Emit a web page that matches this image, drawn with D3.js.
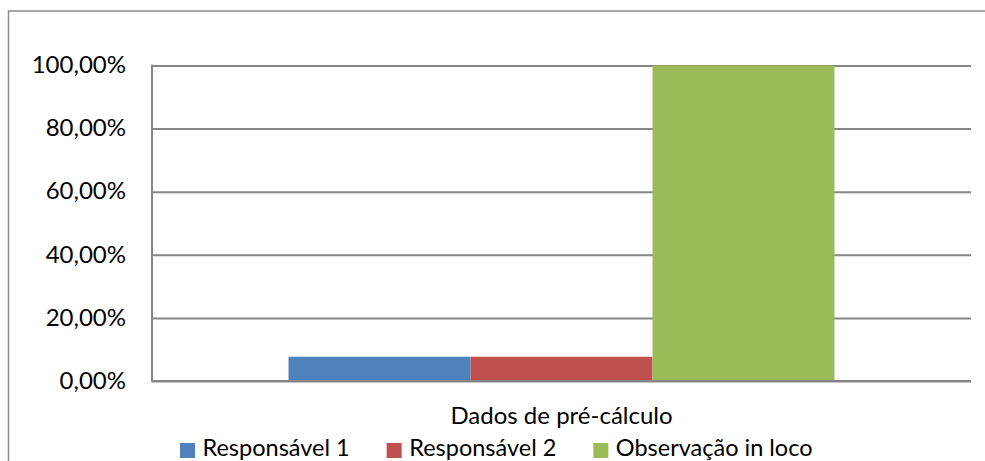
<!DOCTYPE html>
<html><head><meta charset="utf-8">
<script src="https://cdn.jsdelivr.net/npm/d3@7"></script>
<style>body{margin:0;background:#fff}svg{display:block}text{font-family:Lato,"Open Sans",sans-serif;fill:#000}</style>
</head><body><svg id="c" width="985" height="461"></svg>
<script>
const categories = ["Dados de pré-cálculo"];
const seriesNames = ["Responsável 1", "Responsável 2", "Observação in loco"];
const seriesValues = [0.0769, 0.0769, 1.0];
const seriesColors = ["#4F81BD", "#C0504D", "#9BBB59"];
const yTicks = [0, 0.2, 0.4, 0.6, 0.8, 1.0];
const yTickLabels = ["0,00%", "20,00%", "40,00%", "60,00%", "80,00%", "100,00%"];

const svg = d3.select("#c");
const W = 985, H = 461;
const m = {left: 152, right: 971, top: 65.5, bottom: 381};
const fs = 24;

// outer border
svg.append("rect").attr("x", 8.5).attr("y", 11).attr("width", W + 20).attr("height", H + 20)
  .attr("fill", "none").attr("stroke", "#8c8c8c").attr("stroke-width", 1.5);

const y = d3.scaleLinear().domain([0, 1]).range([m.bottom, m.top]);
const x0 = d3.scaleBand().domain(categories).range([m.left, m.right]).paddingInner(0).paddingOuter(0.25);
const x1 = d3.scaleBand().domain(seriesNames).range([0, x0.bandwidth()]).padding(0);

// gridlines
const yAxis = d3.axisLeft(y).tickValues(yTicks).tickSize(-(m.right - m.left)).tickFormat((d, i) => yTickLabels[i]).tickPadding(26);
const ga = svg.append("g").attr("transform", `translate(${m.left},0)`).call(yAxis);
ga.select(".domain").remove();
ga.selectAll(".tick line").attr("stroke", "#868686").attr("stroke-width", 2);
ga.selectAll(".tick text").attr("font-size", fs).attr("font-family", "Lato").attr("dy", "0.3em").attr("fill", "#000");

// bars
const cat = categories[0];
svg.append("g").selectAll("rect").data(seriesNames).join("rect")
  .attr("x", (d) => x0(cat) + x1(d))
  .attr("width", x1.bandwidth())
  .attr("y", (d, i) => y(seriesValues[i]))
  .attr("height", (d, i) => y(0) - y(seriesValues[i]))
  .attr("fill", (d, i) => seriesColors[i]);

// y axis line and x axis line
svg.append("line").attr("x1", m.left).attr("x2", m.left).attr("y1", m.top - 1).attr("y2", m.bottom + 1)
  .attr("stroke", "#868686").attr("stroke-width", 2);
svg.append("line").attr("x1", m.left).attr("x2", m.right).attr("y1", y(0)).attr("y2", y(0))
  .attr("stroke", "#868686").attr("stroke-width", 2);

// category label
const xAxis = d3.axisBottom(x0).tickSize(0).tickPadding(0);
const gx = svg.append("g").attr("transform", `translate(0,${y(0)})`).call(xAxis);
gx.select(".domain").remove();
gx.selectAll(".tick text").attr("font-size", fs).attr("font-family", "Lato").attr("y", 43).attr("dy", 0).attr("fill", "#000");

// legend
const lg = svg.append("g");
let lx = 180;
seriesNames.forEach((name, i) => {
  lg.append("rect").attr("x", lx).attr("y", 443).attr("width", 15).attr("height", 15).attr("fill", seriesColors[i]);
  const t = lg.append("text").attr("x", lx + 22.5).attr("y", 456).attr("font-size", 23.5).text(name);
  lx = lx + 22.5 + t.node().getComputedTextLength() + 37;
});
</script></body></html>
